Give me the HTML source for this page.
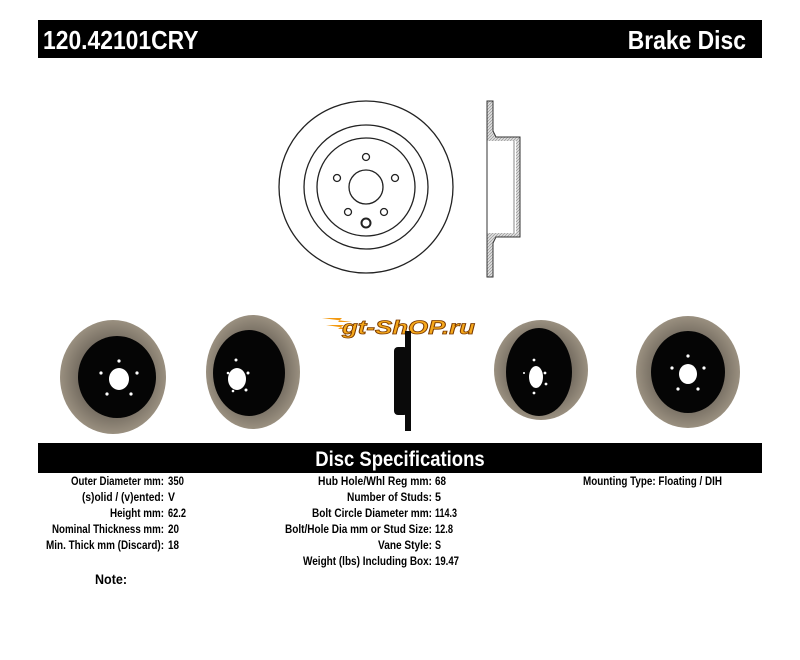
<!DOCTYPE html>
<html><head><meta charset="utf-8"><style>
html,body{margin:0;padding:0;background:#fff;}
body{width:800px;height:655px;overflow:hidden;}
</style></head><body>
<svg width="800" height="655" viewBox="0 0 800 655" xmlns="http://www.w3.org/2000/svg" font-family="Liberation Sans, Arial, sans-serif" font-weight="bold">
<defs>
<radialGradient id="face" cx="50%" cy="50%" r="50%">
<stop offset="0.6" stop-color="#6f675c"/><stop offset="1" stop-color="#9a9080"/>
</radialGradient>
<pattern id="hatch" width="3" height="3" patternUnits="userSpaceOnUse"><rect width="3" height="3" fill="#ddd"/><path d="M0 3L3 0" stroke="#888" stroke-width="0.6"/></pattern>
</defs>
<rect x="38" y="20" width="724" height="38" fill="#000"/>
<g transform="scale(0.88,1)" fill="#fff" font-size="26">
<text x="48.9" y="49">120.42101CRY</text>
<text x="847.7" y="49" text-anchor="end">Brake Disc</text>
</g>
<g fill="none" stroke="#222" stroke-width="1.3">
<ellipse cx="366" cy="187" rx="87" ry="86"/>
<circle cx="366" cy="187" r="62"/>
<circle cx="366" cy="187" r="49"/>
<circle cx="366" cy="187" r="17"/>
<circle cx="366" cy="157" r="3.5"/>
<circle cx="337" cy="178" r="3.5"/>
<circle cx="395" cy="178" r="3.5"/>
<circle cx="348" cy="212" r="3.5"/>
<circle cx="384" cy="212" r="3.5"/>
<circle cx="366" cy="223" r="4.5" stroke-width="2"/>
</g>
<g stroke="#333" stroke-width="1">
<path d="M487 101h6v30l3 6h24v100h-24l-3 6v34h-6z" fill="url(#hatch)"/>
<rect x="487" y="141" width="29" height="92" fill="#fff" stroke="none"/>
<line x1="487" y1="141" x2="487" y2="233"/>
<line x1="514" y1="141" x2="514" y2="233" stroke="#888"/>
</g>
<g transform="translate(322,316)">
<path d="M0 2h20l-4 4h14z M4 9h18l-6 4h14z" fill="#f39a12"/>
<text x="20" y="18" font-size="19" font-style="italic" fill="#f6a81b" stroke="#7a3a00" stroke-width="0.8" textLength="133" lengthAdjust="spacingAndGlyphs">gt-ShOP.ru</text>
</g>
<ellipse cx="113" cy="377" rx="53" ry="57" fill="url(#face)"/>
<ellipse cx="117" cy="377" rx="39" ry="41" fill="#050505"/>
<ellipse cx="119" cy="379" rx="10" ry="11" fill="#fff"/>
<g fill="#fff"><circle cx="119" cy="361" r="1.6"/><circle cx="101" cy="373" r="1.6"/><circle cx="137" cy="373" r="1.6"/><circle cx="107" cy="394" r="1.6"/><circle cx="131" cy="394" r="1.6"/></g>
<ellipse cx="253" cy="372" rx="47" ry="57" fill="url(#face)"/>
<ellipse cx="249" cy="373" rx="36" ry="43" fill="#050505"/>
<ellipse cx="237" cy="379" rx="9" ry="11" fill="#fff"/>
<g fill="#fff"><circle cx="236" cy="360" r="1.5"/><circle cx="228" cy="373" r="1.3"/><circle cx="248" cy="373" r="1.5"/><circle cx="233" cy="391" r="1.3"/><circle cx="246" cy="390" r="1.5"/></g>
<rect x="394" y="347" width="14" height="68" rx="4" fill="#0a0a0a"/>
<rect x="405" y="331" width="6" height="100" fill="#0a0a0a"/>
<ellipse cx="541" cy="370" rx="47" ry="50" fill="url(#face)"/>
<ellipse cx="539" cy="372" rx="33" ry="44" fill="#050505"/>
<ellipse cx="536" cy="377" rx="7" ry="11" fill="#fff"/>
<g fill="#fff"><circle cx="534" cy="360" r="1.4"/><circle cx="545" cy="373" r="1.4"/><circle cx="546" cy="384" r="1.4"/><circle cx="534" cy="393" r="1.4"/><circle cx="524" cy="373" r="1"/></g>
<ellipse cx="688" cy="372" rx="52" ry="56" fill="url(#face)"/>
<ellipse cx="688" cy="372" rx="37" ry="41" fill="#050505"/>
<ellipse cx="688" cy="374" rx="9" ry="10" fill="#fff"/>
<g fill="#fff"><circle cx="688" cy="356" r="1.6"/><circle cx="672" cy="368" r="1.6"/><circle cx="704" cy="368" r="1.6"/><circle cx="678" cy="389" r="1.6"/><circle cx="698" cy="389" r="1.6"/></g>
<rect x="38" y="443" width="724" height="30" fill="#000"/>
<g transform="scale(0.88,1)" fill="#fff" font-size="21">
<text x="454.5" y="466" text-anchor="middle">Disc Specifications</text>
</g>
<g font-size="11.5" fill="#000">
<text x="71" y="485" textLength="93" lengthAdjust="spacingAndGlyphs">Outer Diameter mm:</text>
<text x="82" y="501" textLength="82" lengthAdjust="spacingAndGlyphs">(s)olid / (v)ented:</text>
<text x="110" y="517" textLength="54" lengthAdjust="spacingAndGlyphs">Height mm:</text>
<text x="52" y="533" textLength="112" lengthAdjust="spacingAndGlyphs">Nominal Thickness mm:</text>
<text x="46" y="549" textLength="118" lengthAdjust="spacingAndGlyphs">Min. Thick mm (Discard):</text>
<text x="318" y="485" textLength="114" lengthAdjust="spacingAndGlyphs">Hub Hole/Whl Reg mm:</text>
<text x="347" y="501" textLength="85" lengthAdjust="spacingAndGlyphs">Number of Studs:</text>
<text x="312" y="517" textLength="120" lengthAdjust="spacingAndGlyphs">Bolt Circle Diameter mm:</text>
<text x="285" y="533" textLength="147" lengthAdjust="spacingAndGlyphs">Bolt/Hole Dia mm or Stud Size:</text>
<text x="378" y="549" textLength="54" lengthAdjust="spacingAndGlyphs">Vane Style:</text>
<text x="303" y="565" textLength="129" lengthAdjust="spacingAndGlyphs">Weight (lbs) Including Box:</text>
<text x="168" y="485" textLength="16" lengthAdjust="spacingAndGlyphs">350</text>
<text x="168" y="501" textLength="7" lengthAdjust="spacingAndGlyphs">V</text>
<text x="168" y="517" textLength="18" lengthAdjust="spacingAndGlyphs">62.2</text>
<text x="168" y="533" textLength="11" lengthAdjust="spacingAndGlyphs">20</text>
<text x="168" y="549" textLength="11" lengthAdjust="spacingAndGlyphs">18</text>
<text x="435" y="485" textLength="11" lengthAdjust="spacingAndGlyphs">68</text>
<text x="435" y="501" textLength="6" lengthAdjust="spacingAndGlyphs">5</text>
<text x="435" y="517" textLength="22" lengthAdjust="spacingAndGlyphs">114.3</text>
<text x="435" y="533" textLength="18" lengthAdjust="spacingAndGlyphs">12.8</text>
<text x="435" y="549" textLength="6" lengthAdjust="spacingAndGlyphs">S</text>
<text x="435" y="565" textLength="24" lengthAdjust="spacingAndGlyphs">19.47</text>
<text x="583" y="485" textLength="139" lengthAdjust="spacingAndGlyphs">Mounting Type: Floating / DIH</text>
<text x="95" y="584" font-size="13.5" textLength="32" lengthAdjust="spacingAndGlyphs">Note:</text>
</g>
</svg>
</body></html>
